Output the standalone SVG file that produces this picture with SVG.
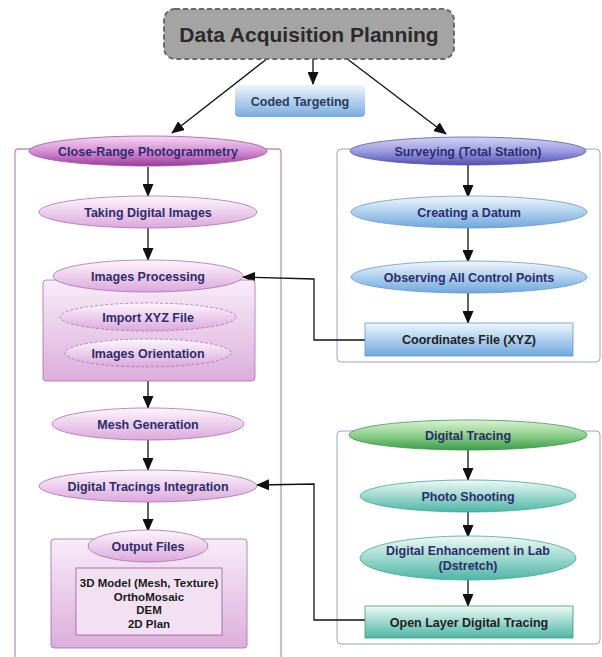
<svg xmlns="http://www.w3.org/2000/svg" width="602" height="657" viewBox="0 0 602 657">
<defs>
<linearGradient id="gCoded" x1="0" y1="0" x2="0" y2="1"><stop offset="0" stop-color="#eef5fc"/><stop offset="1" stop-color="#78acdc"/></linearGradient>
<linearGradient id="gMag" x1="0" y1="0" x2="0" y2="1"><stop offset="0" stop-color="#f6d8f2"/><stop offset="0.5" stop-color="#d690d4"/><stop offset="1" stop-color="#9a3c9c"/></linearGradient>
<linearGradient id="gPink" x1="0" y1="0" x2="0" y2="1"><stop offset="0" stop-color="#fdf6fd"/><stop offset="1" stop-color="#dba8dc"/></linearGradient>
<linearGradient id="gPinkBox" x1="0" y1="0" x2="0" y2="1"><stop offset="0" stop-color="#f8ecf8"/><stop offset="1" stop-color="#dcaedc"/></linearGradient>
<linearGradient id="gPurp" x1="0" y1="0" x2="0" y2="1"><stop offset="0" stop-color="#d4d4f4"/><stop offset="0.5" stop-color="#9c9ce0"/><stop offset="1" stop-color="#5450b4"/></linearGradient>
<linearGradient id="gBlue" x1="0" y1="0" x2="0" y2="1"><stop offset="0" stop-color="#f0f7fd"/><stop offset="1" stop-color="#6ea8de"/></linearGradient>
<linearGradient id="gGreen" x1="0" y1="0" x2="0" y2="1"><stop offset="0" stop-color="#dcf2d6"/><stop offset="0.5" stop-color="#8fd08c"/><stop offset="1" stop-color="#3a9c4a"/></linearGradient>
<linearGradient id="gTeal" x1="0" y1="0" x2="0" y2="1"><stop offset="0" stop-color="#eefaf6"/><stop offset="1" stop-color="#4db6a6"/></linearGradient>
<marker id="ah" markerUnits="userSpaceOnUse" markerWidth="13" markerHeight="11" refX="12" refY="5.5" orient="auto"><path d="M0,0 L13,5.5 L0,11 Z" fill="#111"/></marker>
</defs>
<style>
text{font-family:"Liberation Sans",Arial,sans-serif;font-weight:bold;text-anchor:middle;}
.lbl{font-size:12.5px;fill:#2e2c6c;}
.out{font-size:11.5px;fill:#1a1a1a;}
.conn{fill:none;stroke:#111;stroke-width:1.3;}
.arr{marker-end:url(#ah);}
</style>

<!-- containers -->
<g id="left-container"><path d="M15,660 V152 a3,3 0 0 1 3,-3 H278 a3,3 0 0 1 3,3 V660" fill="#fff" stroke="#b890cc" stroke-width="1.3"/></g>
<g id="right-container-1"><rect x="337" y="149" width="263" height="213" rx="4" fill="#fff" stroke="#9aa6be" stroke-width="1"/></g>
<g id="right-container-2"><rect x="337" y="431" width="263" height="213" rx="4" fill="#fff" stroke="#9aa6be" stroke-width="1"/></g>

<!-- connectors -->
<g id="connectors">
<line class="conn arr" x1="268" y1="58" x2="172" y2="133"/>
<line class="conn arr" x1="313" y1="58" x2="313" y2="84"/>
<line class="conn arr" x1="346" y1="58" x2="446" y2="134"/>
<line class="conn arr" x1="148" y1="167" x2="148" y2="196"/>
<line class="conn arr" x1="148" y1="228" x2="148" y2="260"/>
<line class="conn" x1="148" y1="292" x2="148" y2="303"/>
<line class="conn" x1="148" y1="331" x2="148" y2="339"/>
<line class="conn arr" x1="148" y1="367" x2="148" y2="408"/>
<line class="conn arr" x1="148" y1="440" x2="148" y2="470"/>
<line class="conn arr" x1="148" y1="502" x2="148" y2="531"/>
<line class="conn arr" x1="468" y1="165" x2="468" y2="197"/>
<line class="conn arr" x1="468" y1="228" x2="468" y2="262"/>
<line class="conn arr" x1="468" y1="293" x2="468" y2="323"/>
<line class="conn arr" x1="468" y1="450" x2="468" y2="480"/>
<line class="conn arr" x1="468" y1="512" x2="468" y2="537"/>
<line class="conn arr" x1="468" y1="580" x2="468" y2="606"/>
<polyline class="conn arr" points="365,340 314,340 314,279 243,277"/>
<polyline class="conn arr" points="365,620 314,620 314,484 257,485"/>
</g>

<g id="title"><rect x="164" y="9" width="290" height="50" rx="11" fill="#a4a4a4" stroke="#6a6a6a" stroke-width="2" stroke-dasharray="5,3"/><text x="309" y="41.5" style="font-size:21px;fill:#2a2a2a">Data Acquisition Planning</text></g>
<g id="coded-targeting"><rect x="235" y="85" width="130" height="32" rx="4" fill="url(#gCoded)"/><text class="lbl" x="300" y="105.5" style="fill:#2a3a5a">Coded Targeting</text></g>

<g id="close-range"><ellipse cx="148" cy="151" rx="119" ry="15" fill="url(#gMag)" stroke="#a050a8" stroke-width="0.8"/><text class="lbl" x="148" y="155.5">Close-Range Photogrammetry</text></g>
<g id="taking-images"><ellipse cx="148" cy="212" rx="109" ry="16" fill="url(#gPink)" stroke="#a870b0" stroke-width="0.8"/><text class="lbl" x="148" y="216.5">Taking Digital Images</text></g>
<g id="processing-box"><rect x="43" y="280" width="212" height="101" rx="3" fill="url(#gPinkBox)" stroke="#a870b0" stroke-width="0.8"/></g>
<g id="images-processing"><ellipse cx="148" cy="276" rx="95" ry="16" fill="url(#gPink)" stroke="#a870b0" stroke-width="0.8"/><text class="lbl" x="148" y="280.5">Images Processing</text></g>
<g id="import-xyz"><ellipse cx="148" cy="317" rx="88" ry="14" fill="url(#gPink)" stroke="#a870b0" stroke-width="0.8" stroke-dasharray="3,2"/><text class="lbl" x="148" y="321.5">Import XYZ File</text></g>
<g id="images-orientation"><ellipse cx="148" cy="353" rx="83" ry="14" fill="url(#gPink)" stroke="#a870b0" stroke-width="0.8" stroke-dasharray="3,2"/><text class="lbl" x="148" y="357.5">Images Orientation</text></g>
<g id="mesh-generation"><ellipse cx="148" cy="424" rx="96" ry="16" fill="url(#gPink)" stroke="#a870b0" stroke-width="0.8"/><text class="lbl" x="148" y="428.5">Mesh Generation</text></g>
<g id="tracings-integration"><ellipse cx="148" cy="486" rx="109" ry="16" fill="url(#gPink)" stroke="#a870b0" stroke-width="0.8"/><text class="lbl" x="148" y="490.5">Digital Tracings Integration</text></g>
<g id="output-box"><rect x="51" y="539" width="196" height="109" rx="3" fill="url(#gPinkBox)" stroke="#a070a8" stroke-width="0.8"/><rect x="76" y="568" width="146" height="67" fill="#f3e1f3" stroke="#9a5aa0" stroke-width="0.8"/>
<text class="out" x="149" y="587">3D Model (Mesh, Texture)</text><text class="out" x="149" y="600.5">OrthoMosaic</text><text class="out" x="149" y="614">DEM</text><text class="out" x="149" y="627.5">2D Plan</text></g>
<g id="output-files"><ellipse cx="148" cy="546" rx="60" ry="16" fill="url(#gPink)" stroke="#a870b0" stroke-width="0.8"/><text class="lbl" x="148" y="550.5">Output Files</text></g>

<g id="surveying"><ellipse cx="468" cy="151" rx="118" ry="14" fill="url(#gPurp)" stroke="#5a58a8" stroke-width="0.8"/><text class="lbl" x="468" y="155.5">Surveying (Total Station)</text></g>
<g id="creating-datum"><ellipse cx="469" cy="212" rx="118" ry="16" fill="url(#gBlue)" stroke="#6a98c8" stroke-width="0.8"/><text class="lbl" x="469" y="216.5">Creating a Datum</text></g>
<g id="observing"><ellipse cx="469" cy="277" rx="118" ry="16" fill="url(#gBlue)" stroke="#6a98c8" stroke-width="0.8"/><text class="lbl" x="469" y="281.5">Observing All Control Points</text></g>
<g id="coordinates-file"><rect x="365" y="323" width="208" height="33" fill="url(#gBlue)" stroke="#6a98c8" stroke-width="0.8"/><text class="lbl" x="469" y="344" style="fill:#222">Coordinates File (XYZ)</text></g>

<g id="digital-tracing"><ellipse cx="468" cy="435" rx="119" ry="15" fill="url(#gGreen)" stroke="#3a9a48" stroke-width="0.8"/><text class="lbl" x="468" y="439.5">Digital Tracing</text></g>
<g id="photo-shooting"><ellipse cx="468" cy="496" rx="108" ry="16" fill="url(#gTeal)" stroke="#40a898" stroke-width="0.8"/><text class="lbl" x="468" y="500.5">Photo Shooting</text></g>
<g id="enhancement"><ellipse cx="468" cy="558" rx="108" ry="22" fill="url(#gTeal)" stroke="#40a898" stroke-width="0.8"/><text class="lbl" x="468" y="555">Digital Enhancement in Lab</text><text class="lbl" x="468" y="570">(Dstretch)</text></g>
<g id="open-layer"><rect x="365" y="606" width="208" height="32" fill="url(#gTeal)" stroke="#40a060" stroke-width="0.8"/><text class="lbl" x="469" y="626.5" style="fill:#222">Open Layer Digital Tracing</text></g>
</svg>
